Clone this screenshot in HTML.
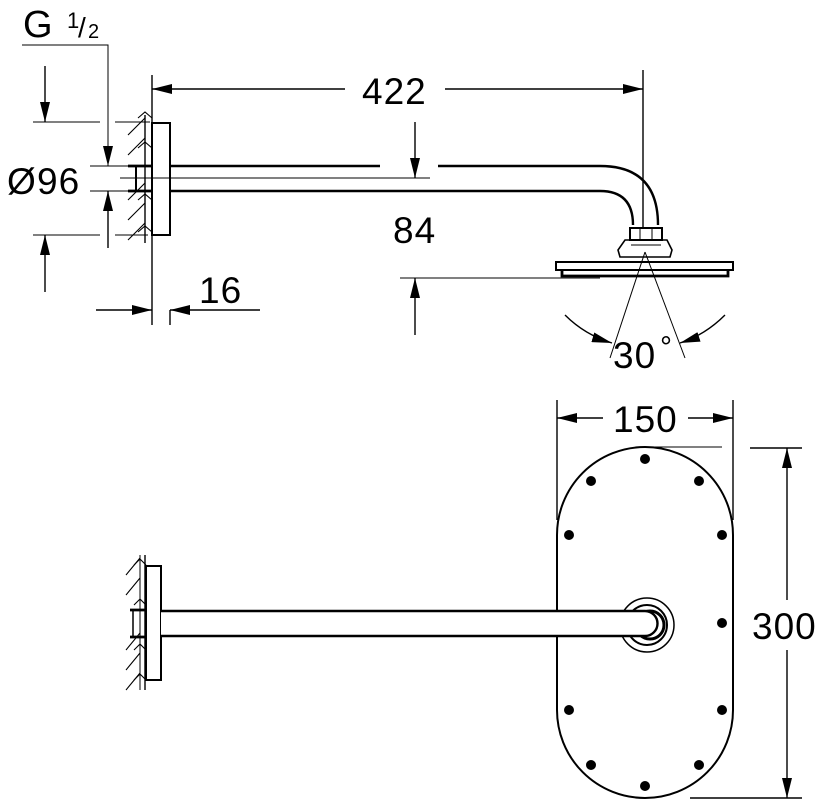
<!DOCTYPE html>
<html><head><style>html,body{margin:0;padding:0;background:#fff}svg{display:block}text{font-family:"Liberation Sans",sans-serif;fill:#000}</style></head>
<body>
<svg width="824" height="800" viewBox="0 0 824 800" xmlns="http://www.w3.org/2000/svg">
<defs>
<marker id="a" viewBox="0 0 20 10" refX="20" refY="5" markerWidth="20" markerHeight="10" markerUnits="userSpaceOnUse" orient="auto"><path d="M0,0 L20,5 L0,10z" fill="#000"/></marker>
</defs>
<g stroke="#000" fill="none" stroke-width="1.4">
<line x1="152" y1="75" x2="152" y2="325"/>
<line x1="145" y1="115" x2="145" y2="243"/>
<g stroke-width="1.1">
<path d="M128,135 L145,118 M128,155 L145,138 M128,200 L145,183 M128,220 L145,203 M128,240 L145,223"/>
<path d="M138,118 L145,112 L152,118 M138,148 L145,142 L152,148 M138,200 L145,194 L152,200 M138,232 L145,226 L152,232"/>
</g>
<rect x="152" y="123" width="18" height="112" stroke-width="2"/>
<path d="M128,166 L152,166 M128,191 L152,191" stroke-width="2.8"/>
<path d="M136,166 L136,191" stroke-width="2"/>
<path d="M170,166 L380,166 M438,166 L600,166 Q658,166 658,225" stroke-width="2.4"/>
<path d="M170,191 L600,191 Q633,191 633,225" stroke-width="2.4"/>
<line x1="120" y1="178" x2="430" y2="178" stroke-width="1"/>
<rect x="630" y="228" width="32" height="12" stroke-width="2"/>
<path d="M640,228 L640,240 M652,228 L652,240" stroke-width="1"/>
<path d="M625,240 L667,240 L672,250 L670,257 L620,257 L618,250z" stroke-width="1.6"/>
<path d="M631,245 L661,245" stroke-width="1"/>
<rect x="556" y="262" width="177" height="8" stroke-width="2"/>
<path d="M562,270 L562,276 L728,276 L728,270" stroke-width="2.8"/>
<line x1="643" y1="70" x2="643" y2="228"/>
<line x1="345" y1="89" x2="152" y2="89" marker-end="url(#a)"/>
<line x1="445" y1="89" x2="643" y2="89" marker-end="url(#a)"/>
<line x1="415" y1="122" x2="415" y2="178" marker-end="url(#a)"/>
<line x1="400" y1="278" x2="600" y2="278" stroke-width="1"/>
<line x1="415" y1="335" x2="415" y2="278" marker-end="url(#a)"/>
<line x1="645" y1="252" x2="610" y2="358" stroke-width="1"/>
<line x1="645" y1="252" x2="685" y2="358" stroke-width="1"/>
<path d="M565,315 Q585,335 612,343" marker-end="url(#a)"/>
<path d="M725,315 Q705,335 680,343" marker-end="url(#a)"/>
<path d="M33,122 L100,122 M115,122 L150,122 M33,235 L100,235 M115,235 L148,235" stroke-width="1"/>
<line x1="45" y1="66" x2="45" y2="122" marker-end="url(#a)"/>
<line x1="45" y1="292" x2="45" y2="235" marker-end="url(#a)"/>
<path d="M90,166 L128,166 M90,191 L128,191" stroke-width="1"/>
<path d="M22,45 L108,45 L108,166" stroke-width="1" marker-end="url(#a)"/>
<line x1="108" y1="248" x2="108" y2="191" marker-end="url(#a)"/>
<line x1="170" y1="310" x2="170" y2="325"/>
<line x1="96" y1="310" x2="152" y2="310" marker-end="url(#a)"/>
<line x1="260" y1="310" x2="170" y2="310" marker-end="url(#a)"/>

<line x1="145" y1="555" x2="145" y2="690"/>
<line x1="140" y1="555" x2="140" y2="690" stroke-width="1"/>
<g stroke-width="1.1">
<path d="M126,575 L140,558 M126,595 L140,578 M126,650 L140,633 M126,670 L140,653 M126,690 L140,673"/>
<path d="M134,565 L140,559 L146,565 M134,605 L140,599 L146,605 M134,650 L140,644 L146,650 M134,680 L140,674 L146,680"/>
</g>
<rect x="146" y="566" width="15" height="114" stroke-width="2"/>
<path d="M130,610 L146,610 M130,637 L146,637" stroke-width="2.8"/>
<path d="M133,610 L133,637" stroke-width="1.5"/>
<rect x="557" y="447" width="176" height="351" rx="88" ry="88" stroke-width="2"/>
<g fill="#fff">
<circle cx="647" cy="625" r="27" stroke-width="1.5"/>
<circle cx="647" cy="625" r="20" stroke-width="2"/>
<circle cx="650" cy="625" r="14" stroke-width="3"/>
</g>
<path d="M161,611 L645,611 A12.5,12.5 0 0 1 645,636 L161,636" fill="#fff" stroke-width="2.4"/>
<g fill="#000" stroke="none">
<circle cx="645" cy="459" r="5"/><circle cx="591" cy="481" r="5"/><circle cx="699" cy="481" r="5"/>
<circle cx="569" cy="535" r="5"/><circle cx="722" cy="535" r="5"/><circle cx="722" cy="623" r="5"/>
<circle cx="569" cy="710" r="5"/><circle cx="722" cy="710" r="5"/><circle cx="591" cy="765" r="5"/>
<circle cx="699" cy="765" r="5"/><circle cx="645" cy="786" r="5"/>
</g>
<line x1="557" y1="400" x2="557" y2="520"/>
<line x1="733" y1="400" x2="733" y2="520"/>
<line x1="643" y1="447" x2="722" y2="447" stroke-width="1"/>
<line x1="603" y1="418" x2="557" y2="418" marker-end="url(#a)"/>
<line x1="688" y1="418" x2="733" y2="418" marker-end="url(#a)"/>
<line x1="750" y1="448" x2="802" y2="448"/>
<line x1="690" y1="798" x2="802" y2="798"/>
<line x1="787" y1="600" x2="787" y2="448" marker-end="url(#a)"/>
<line x1="787" y1="650" x2="787" y2="798" marker-end="url(#a)"/>
</g>
<g font-size="37" letter-spacing="1">
<text x="362" y="104">422</text>
<text x="393" y="243">84</text>
<text x="199" y="303">16</text>
<text x="7" y="194">Ø</text>
<text x="37" y="194">96</text>
<text x="23" y="37" font-size="38">G</text>
<text x="67" y="28" font-size="22">1</text>
<text x="78" y="37" font-size="28">/</text>
<text x="88" y="38" font-size="20">2</text>
<text x="613" y="368">30</text>
<text x="660" y="357" font-size="30">°</text>
<text x="613" y="432">150</text>
<text x="752" y="639">300</text>
</g>
</svg>
</body></html>
